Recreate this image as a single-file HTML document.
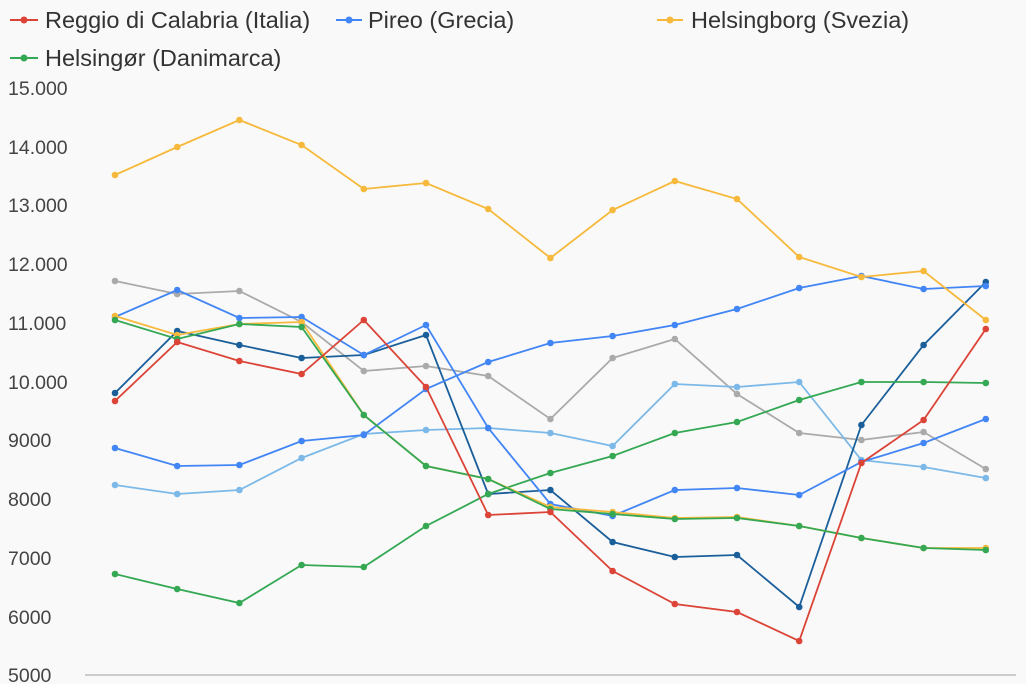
<!DOCTYPE html>
<html><head><meta charset="utf-8"><style>
body{margin:0;background:#f9f9f9;}
svg{display:block;font-family:"Liberation Sans",sans-serif;}
</style></head><body>
<svg id="s" width="1026" height="684" xmlns="http://www.w3.org/2000/svg">
<rect width="1026" height="684" fill="#f9f9f9"/>
<g font-size="23.5" fill="#333">
<line x1="10" y1="20" x2="38" y2="20" stroke="#db4437" stroke-width="2"/><circle cx="24" cy="20" r="3.5" fill="#db4437"/>
<text x="45" y="28">Reggio di Calabria (Italia)</text>
<line x1="336" y1="20" x2="362" y2="20" stroke="#4285f4" stroke-width="2"/><circle cx="349" cy="20" r="3.5" fill="#4285f4"/>
<text x="368" y="28">Pireo (Grecia)</text>
<line x1="657" y1="20" x2="683" y2="20" stroke="#f6b93b" stroke-width="2"/><circle cx="670" cy="20" r="3.5" fill="#f6b93b"/>
<text x="691" y="28">Helsingborg (Svezia)</text>
<line x1="10" y1="58" x2="38" y2="58" stroke="#34a853" stroke-width="2"/><circle cx="24" cy="58" r="3.5" fill="#34a853"/>
<text x="45" y="66">Helsingør (Danimarca)</text>
</g>
<g font-size="19.5" fill="#444">
<text x="8" y="95">15.000</text><text x="8" y="154">14.000</text><text x="8" y="212">13.000</text>
<text x="8" y="271">12.000</text><text x="8" y="330">11.000</text><text x="8" y="389">10.000</text>
<text x="8" y="447">9000</text><text x="8" y="506">8000</text><text x="8" y="565">7000</text>
<text x="8" y="624">6000</text><text x="8" y="682">5000</text>
</g>
<line x1="85" y1="675" x2="1016" y2="675" stroke="#ccc" stroke-width="2"/>
<g id="g"></g>
</svg>
<script>
var S=[
["#aaaaaa",[281,294,291,322,371,366,376,419,358,339,394,433,440,432,469]],
["#7cb9e8",[485,494,490,458,434,430,428,433,446,384,387,382,460,467,478]],
["#1a5f9a",[393,331,345,358,355,335,494,490,542,557,555,607,425,345,282]],
["#4285f4",[317,290,318,317,355,325,428,504,516,490,488,495,462,443,419]],
["#4285f4",[448,466,465,441,435,389,362,343,336,325,309,288,276,289,286]],
["#34a853",[574,589,603,565,567,526,494,473,456,433,422,400,382,382,383]],
["#f6b93b",[316,335,324,322,415,466,479,507,512,518,517,526,538,548,548]],
["#34a853",[320,339,324,327,415,466,479,509,514,519,518,526,538,548,550]],
["#f6b93b",[175,147,120,145,189,183,209,258,210,181,199,257,277,271,320]],
["#db4437",[401,342,361,374,320,387,515,512,571,604,612,641,463,420,329]]
];
var h="";
S.forEach(function(s){var p=s[1].map(function(y,i){return (115+i*62.2).toFixed(1)+","+y}).join(" ");
h+='<polyline points="'+p+'" fill="none" stroke="'+s[0]+'" stroke-width="1.8"/>';
s[1].forEach(function(y,i){h+='<circle cx="'+(115+i*62.2).toFixed(1)+'" cy="'+y+'" r="3.3" fill="'+s[0]+'"/>';});});
document.getElementById("g").innerHTML=h;
</script>
</body></html>
